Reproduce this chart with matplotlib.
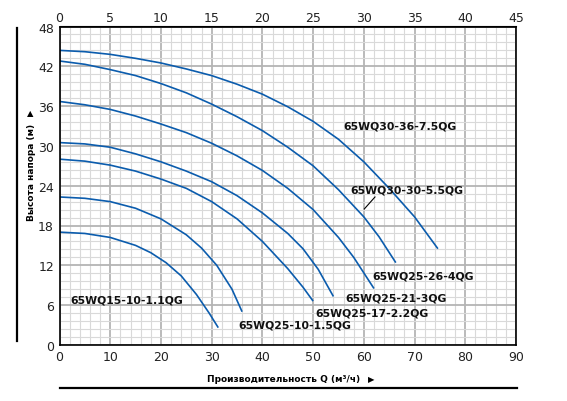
import matplotlib
matplotlib.use("Agg")
import matplotlib.pyplot as plt
from matplotlib.lines import Line2D
import numpy as np

# ---- data ----
q1 = [0, 5, 10, 15, 20, 25, 30, 35, 40, 45, 50, 55, 60, 65, 70, 74.6]
h1 = [44.4, 44.2, 43.8, 43.2, 42.5, 41.6, 40.6, 39.3, 37.8, 35.9, 33.7, 31.0, 27.6, 23.6, 19.3, 14.5]

q2 = [0, 5, 10, 15, 20, 25, 30, 35, 40, 45, 50, 55, 60, 63, 66.3]
h2 = [42.8, 42.3, 41.5, 40.6, 39.4, 38.0, 36.3, 34.4, 32.3, 29.8, 27.0, 23.4, 19.3, 16.3, 12.4]

q3 = [0, 5, 10, 15, 20, 25, 30, 35, 40, 45, 50, 55, 58, 62]
h3 = [36.7, 36.2, 35.5, 34.5, 33.3, 32.0, 30.4, 28.5, 26.3, 23.6, 20.4, 16.2, 13.2, 8.5]

q4 = [0, 5, 10, 15, 20, 25, 30, 35, 40, 45, 48, 51, 54]
h4 = [30.5, 30.3, 29.8, 28.8, 27.6, 26.2, 24.6, 22.5, 19.9, 16.8, 14.5, 11.4, 7.3]

q5 = [0, 5, 10, 15, 20, 25, 30, 35, 40, 45, 48, 50]
h5 = [28.0, 27.7, 27.1, 26.2, 25.0, 23.6, 21.6, 19.0, 15.6, 11.5, 8.7, 6.6]

q6 = [0, 5, 10, 15, 20, 25, 28, 31, 34, 36]
h6 = [22.3, 22.1, 21.6, 20.6, 19.0, 16.6, 14.6, 12.0, 8.4, 5.0]

q7 = [0, 5, 10, 15, 18, 21, 24, 27, 29.5, 31.3]
h7 = [17.0, 16.8, 16.2, 15.0, 13.9, 12.4, 10.4, 7.6, 4.8, 2.6]

series_q = [q1, q2, q3, q4, q5, q6, q7]
series_h = [h1, h2, h3, h4, h5, h6, h7]

labels = ["65WQ30-36-7.5QG", "65WQ30-30-5.5QG", "65WQ25-26-4QG",
          "65WQ25-21-3QG", "65WQ25-17-2.2QG", "65WQ25-10-1.5QG",
          "65WQ15-10-1.1QG"]
label_q = [56.0, 57.3, 61.6, 56.3, 50.4, 35.3, 2.1]
label_h = [33.1, 23.5, 10.4, 7.15, 4.85, 3.15, 6.85]

x_ticks = [0, 10, 20, 30, 40, 50, 60, 70, 80, 90]
top_ticks = [0, 5, 10, 15, 20, 25, 30, 35, 40, 45]
y_ticks = [0, 6, 12, 18, 24, 30, 36, 42, 48]

# ---- figure ----
fig = plt.figure(figsize=(5.67, 4.02), dpi=100)
ax = fig.add_axes([59.5 / 567, 1 - 345.9 / 402, (516 - 59.5) / 567, (345.9 - 27.5) / 402])

ax.set_xlim(0, 90)
ax.set_ylim(0, 48)
ax.set_xticks(x_ticks)
ax.set_yticks(y_ticks)
ax.set_xticks(np.arange(0, 90.01, 2), minor=True)
ax.set_yticks(np.arange(0, 48.01, 1.2), minor=True)
ax.grid(which="minor", color="#d9d9d9", linewidth=0.8)
ax.grid(which="major", color="#b4b4b4", linewidth=1.3)
ax.set_axisbelow(True)
ax.tick_params(which="both", length=0)
ax.tick_params(axis="both", labelsize=9, labelcolor="#222222", pad=4)

for s in ax.spines.values():
    s.set_color("black")
    s.set_linewidth(1.2)

sec = ax.secondary_xaxis("top", functions=(lambda x: x / 2, lambda x: x * 2))
sec.set_xticks(top_ticks)
sec.tick_params(length=0, labelsize=9, labelcolor="#222222", pad=2)

blue = "#0b5cad"
for q, h in zip(series_q, series_h):
    ax.plot(q, h, color=blue, linewidth=1.2, solid_capstyle="butt",
            solid_joinstyle="round")

for t, lq, lh in zip(labels, label_q, label_h):
    ax.text(lq, lh, t, fontsize=7.8, fontweight="bold", color="#111111",
            ha="left", va="center", family="DejaVu Sans")

# pointer for 65WQ30-30-5.5QG
ax.plot([62.2, 60.1], [22.3, 20.5], color="black", linewidth=0.8)

# axis titles and decorations
fig.text(32 / 567, 1 - 172 / 402, "Высота напора (м)", rotation=90,
         fontsize=6.5, fontweight="bold", ha="center", va="center")
fig.text(30 / 567, 1 - 114 / 402, "▲", fontsize=6, ha="center", va="center")
fig.text(284 / 567, 1 - 380 / 402, "Производительность Q (м³/ч)",
         fontsize=6.5, fontweight="bold", ha="center", va="center")
fig.text(371 / 567, 1 - 380 / 402, "▶", fontsize=6, ha="center", va="center")

fig.add_artist(Line2D([17 / 567, 17 / 567], [1 - 29 / 402, 1 - 342 / 402],
                      color="black", linewidth=1.6, transform=fig.transFigure))
fig.add_artist(Line2D([60 / 567, 517 / 567], [1 - 388.5 / 402, 1 - 388.5 / 402],
                      color="black", linewidth=1.6, transform=fig.transFigure))

fig.savefig("out.png", dpi=100)
